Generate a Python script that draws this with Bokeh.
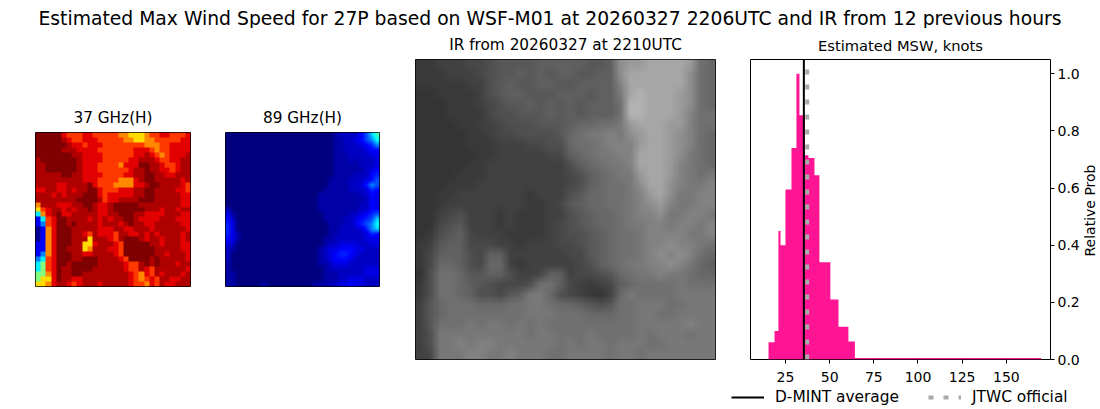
import math
import numpy as np
from bokeh.plotting import figure
from bokeh.layouts import column, row
from bokeh.models import Range1d, LinearColorMapper, Label, Legend, LegendItem, FixedTicker, CustomJSTickFormatter
from bokeh.palettes import Greys256
from bokeh.embed import file_html
from bokeh.resources import INLINE

FONT = "DejaVu Sans"
MAIN_TITLE = "Estimated Max Wind Speed for 27P based on WSF-M01 at 20260327 2206UTC and IR from 12 previous hours"

# histogram values
bin_edges = [15.4, 18.8, 21.0, 22.2, 25.0, 28.4, 31.2, 32.9, 36.0, 38.0, 41.4, 44.2, 50.4, 55.0, 60.6, 64.3, 169.7]
bin_prob = [0.06, 0.10, 0.45, 0.40, 0.595, 0.74, 1.0, 0.855, 0.715, 0.705, 0.645, 0.34, 0.21, 0.115, 0.063, 0.005]
dmint_average = 35.4
jtwc_official = 37.3
x_ticks = [25, 50, 75, 100, 125, 150]
y_ticks = [0.0, 0.2, 0.4, 0.6, 0.8, 1.0]
x_limits = (5.2, 175.0)
y_limits = (0.0, 1.05)

# 37 GHz brightness, one char per cell (see LEVEL37)
grid37 = [
"aaaaa 87778 87777 76655 56778 87778",
"aaaaa 98778 88777 77665 56677 77788",
"aaaaa a9887 88877 77777 76667 78888",
"aaaaa 99988 88777 77778 88767 78888",
"aaaaa aa998 88877 77778 89876 78889",
"9aaaa aaa98 88877 77788 99987 78899",
"99aaa aaa98 88777 76888 aa998 77899",
"99aaa aaa98 88777 77789 9a998 87899",
"99999 aa998 88877 77889 9aa99 88999",
"99999 99998 88777 76668 9aa99 99989",
"99998 89999 a8777 66668 89aa9 99987",
"88998 89899 aa877 78889 9aa99 99887",
"99989 8999a aa878 88889 9aa99 99988",
"99999 999aa aa978 89999 aaa99 99988",
"69998 8899a a9889 aaaaa 99999 99988",
"57899 89899 a9889 aaaaa a9998 99899",
"3689a 88999 99889 9aaa9 98888 99988",
"1378a a9999 89898 99aa9 88889 99888",
"1278a a9a99 99899 989a9 98899 99988",
"0168a aa999 99888 99889 99899 99998",
"0168a aa998 79888 79988 98989 99989",
"0168a aa999 59998 79aaa 98998 99989",
"1168a aa995 58999 87aaa aa998 99988",
"1168a a9995 69998 87aaa aaa99 99988",
"1268a aa998 89999 87aaa aaa99 89998",
"2378a aa99a aa999 987aa aa9a9 99998",
"3478a a9aaa aa999 99877 9a9a9 99899",
"3478a 99aaa a9999 99877 98799 99998",
"4468a 99aa9 99999 99987 68798 99989",
"4558a 99889 99999 99987 67879 98899",
"55689 98789 99899 99987 76879 88999",
]
LEVEL37 = {"0": 0.02, "1": 0.12, "2": 0.25, "3": 0.36, "4": 0.5, "5": 0.66, "6": 0.74, "7": 0.82, "8": 0.90, "9": 0.95, "a": 1.0}

# 89 GHz brightness
grid89 = [
"00000 00000 00000 00000 01222 246 8a",
"00000 00000 00000 00000 01122 346 79",
"00000 00000 00000 00000 01122 234 57",
"00000 00000 00000 00000 01122 223 44",
"00000 00000 00000 00000 01112 222 33",
"00000 00000 00000 00000 01112 122 23",
"00000 00000 00000 00000 01111 122 23",
"00000 00000 00000 00000 01111 112 34",
"00000 00000 00000 00000 01111 222 45",
"00000 00000 00000 00000 11112 223 46",
"00000 00000 00000 00000 11112 235 76",
"00000 00000 00000 00001 11112 223 54",
"00000 00000 00000 00011 11111 122 43",
"00000 00000 00000 00011 11111 112 43",
"00000 00000 00000 00011 11111 122 43",
"20000 00000 00000 00011 11111 122 44",
"31000 00000 00000 00001 11112 234 56",
"42000 00000 00000 00001 11122 345 68",
"53000 00000 00000 00000 11122 356 79",
"53000 00000 00000 00000 11222 235 78",
"53100 00000 00000 00000 11222 223 54",
"43100 00000 00000 00001 12222 223 33",
"32000 00000 00000 00001 22333 322 33",
"21000 00000 00000 00012 33444 332 22",
"20000 00000 00000 00012 34554 322 22",
"20000 00000 00000 00012 34443 222 22",
"10000 00000 00000 00011 23332 222 22",
"10000 00000 00000 00001 22222 223 33",
"11000 00000 00000 00001 11222 223 33",
"11000 00000 00000 00001 11223 332 22",
"11000 00100 00000 00111 22334 332 22",
]
LEVEL89 = {"0": 0.0, "1": 0.04, "2": 0.07, "3": 0.10, "4": 0.13, "5": 0.16, "6": 0.2, "7": 0.26, "8": 0.33, "9": 0.38, "a": 0.44}

# IR grey levels, top row first
gridIR = [
"22333 44566 66777 77667 cddee eed98",
"22233 34566 76767 76677 ceeee eec98",
"22222 33567 66776 67777 beeee eec98",
"11222 23567 76667 77677 aefee edc98",
"11122 23456 67676 76777 9ffee edc98",
"11122 22455 66676 76777 9ffee edb99",
"11112 23345 55666 78899 adeee ddb99",
"11111 22344 55556 89aab acdee dcb98",
"11111 22233 34455 899ab bbdee dcb98",
"11111 12233 33344 789aa bbeee dca98",
"11111 22333 33333 5789a abeee dba98",
"11112 22333 33333 45789 aadee dba9a",
"11122 23333 33333 45789 9acee cbaab",
"11223 33333 32333 56889 9abde caabb",
"11233 33333 32234 67889 9abcd baabb",
"11345 33323 22233 56788 9abbc aabba",
"11456 33323 22234 56788 9aabb abbab",
"12567 43332 22234 55678 99abb bbaab",
"23677 44433 23334 45678 99abb cbba9",
"24777 54773 33333 44678 99abc bcb98",
"24887 54883 23333 34578 9aabb cba87",
"15998 66775 33477 34456 89aab aa988",
"25998 76544 45997 43234 78999 9a999",
"25998 75546 7aa85 43213 8a999 9aaaa",
"36899 98889 9aa98 87656 99aaa 99aaa",
"36899 99999 9aaa9 99888 99aa9 9aaaa",
"36999 a9aa9 a9a99 99999 99aaa aabaa",
"35aaa aaaaa a9aa9 99a99 99a9a aa9aa",
"35aab abbaa aaaa9 a9aa9 aaa99 aaaaa",
"34aaa bbaab aaa99 aaaa9 aa9aa aaaaa",
]
LEVELIR = dict(zip("0123456789abcdef", [45, 52, 58, 65, 72, 80, 88, 96, 104, 112, 120, 130, 142, 154, 166, 178]))


def to_array(rows, levels):
    return np.array([[levels[c] for c in r.replace(" ", "")] for r in rows[::-1]], dtype=float)


def soften(a, k):
    """Bilinear display resampling of a read grid, like imshow(interpolation='bilinear')."""
    ny, nx = a.shape
    xs = (np.arange(nx * k) + 0.5) / k - 0.5
    ys = (np.arange(ny * k) + 0.5) / k - 0.5
    b = np.array([np.interp(xs, np.arange(nx), r) for r in a])
    return np.array([np.interp(ys, np.arange(ny), c) for c in b.T]).T


def jet(t):
    r = np.clip(min(4 * t - 1.5, -4 * t + 4.5), 0, 1)
    g = np.clip(min(4 * t - 0.5, -4 * t + 3.5), 0, 1)
    b = np.clip(min(4 * t + 0.5, -4 * t + 2.5), 0, 1)
    return "#%02x%02x%02x" % (int(r * 255), int(g * 255), int(b * 255))


JET = [jet(i / 255) for i in range(256)]
GREY = list(Greys256) if Greys256[0] == "#000000" else list(Greys256)[::-1]


def style_title(p, size, standoff):
    p.title.align = "center"
    p.title.text_font = FONT
    p.title.text_font_size = size
    p.title.text_font_style = "normal"
    p.title.text_color = "black"
    p.title.standoff = standoff


def panel(title, data, palette, low, high, width, left, right, top, bottom, standoff):
    ny, nx = data.shape
    p = figure(width=width, height=H, output_backend="svg", toolbar_location=None,
               x_range=Range1d(0, nx), y_range=Range1d(0, ny), title=title,
               min_border_left=left, min_border_right=right, min_border_top=top, min_border_bottom=bottom,
               x_axis_location=None, y_axis_location=None, frame_align=False)
    p.grid.visible = False
    p.image(image=[data], x=0, y=0, dw=nx, dh=ny,
            color_mapper=LinearColorMapper(palette=palette, low=low, high=high))
    p.outline_line_color = "black"
    p.outline_line_width = 1
    p.outline_line_alpha = 1
    style_title(p, "15.3px", standoff)
    return p


H = 360
p1 = panel("37 GHz(H)", to_array(grid37, LEVEL37), JET, 0, 1, 207, 35, 17, 104, 102, 11)
p2 = panel("89 GHz(H)", soften(to_array(grid89, LEVEL89), 5), JET, 0, 1, 190, 18, 18, 104, 102, 11)
p3 = panel("IR from 20260327 at 2210UTC", soften(to_array(gridIR, LEVELIR), 6), GREY, 0, 255, 330, 18, 12, 31, 29, 11)

p4 = figure(width=356, height=H, output_backend="svg", toolbar_location=None,
            x_range=Range1d(*x_limits), y_range=Range1d(*y_limits), title="Estimated MSW, knots",
            min_border_left=23, min_border_right=33, min_border_top=31, min_border_bottom=29,
            y_axis_location="right", frame_align=False)
p4.grid.visible = False
step_x = [e for pair in zip(bin_edges[:-1], bin_edges[1:]) for e in pair]
step_y = [v for v in bin_prob for _ in (0, 1)]
p4.varea(x=step_x, y1=[0.0] * len(step_x), y2=step_y, fill_color="#ff1493")
p4.line(x=[jtwc_official, jtwc_official], y=list(y_limits), line_color="#aaaaaa", line_width=4, line_dash="5 10")
p4.line(x=[dmint_average, dmint_average], y=list(y_limits), line_color="black", line_width=2)
p4.outline_line_color = "black"
p4.outline_line_alpha = 1
style_title(p4, "14.7px", 11)
for ax, ticks, standoff in ((p4.xaxis[0], x_ticks, 8), (p4.yaxis[0], y_ticks, 3)):
    ax.ticker = FixedTicker(ticks=ticks)
    ax.minor_tick_line_color = None
    ax.major_tick_in = 0
    ax.major_tick_out = 4
    ax.major_tick_line_color = "black"
    ax.axis_line_color = None
    ax.major_label_text_font = FONT
    ax.major_label_text_font_size = "14px"
    ax.major_label_text_color = "black"
    ax.major_label_standoff = standoff
p4.yaxis[0].formatter = CustomJSTickFormatter(code="return tick.toFixed(1)")

# axis title of the histogram, in a narrow strip to the right of its tick labels
p5 = figure(width=17, height=H, output_backend="svg", toolbar_location=None,
            x_axis_location=None, y_axis_location=None, outline_line_color=None,
            min_border_left=0, min_border_right=0, min_border_top=0, min_border_bottom=0, frame_align=False)
p5.grid.visible = False
p5.add_layout(Label(x=6, y=178, x_units="screen", y_units="screen", text="Relative Prob", angle=math.pi / 2,
                    text_align="center", text_baseline="middle", text_font=FONT, text_font_size="14px",
                    text_color="black"))

# legend strip along the bottom of the page
leg = figure(width=1100, height=21, output_backend="svg", toolbar_location=None,
             x_range=Range1d(0, 1), y_range=Range1d(0, 1),
             x_axis_location=None, y_axis_location=None, outline_line_color=None,
             min_border_left=0, min_border_right=0, min_border_top=0, min_border_bottom=0, frame_align=False)
leg.grid.visible = False
dm = leg.line(x=[dmint_average, dmint_average], y=list(y_limits), line_color="black", line_width=2)
jt = leg.line(x=[jtwc_official, jtwc_official], y=list(y_limits), line_color="#aaaaaa", line_width=4, line_dash="5 10")
legend = Legend(items=[LegendItem(label="D-MINT average", renderers=[dm]),
                       LegendItem(label="JTWC official", renderers=[jt])],
                orientation="horizontal", location=(731, 3), border_line_color=None,
                background_fill_alpha=0, label_text_font=FONT, label_text_font_size="15.4px",
                label_text_color="black", label_standoff=11, glyph_width=33, glyph_height=14,
                spacing=29, margin=0, padding=0)
leg.add_layout(legend, "center")

top = figure(width=1100, height=28, output_backend="svg", toolbar_location=None,
             x_axis_location=None, y_axis_location=None, outline_line_color=None,
             min_border_left=0, min_border_right=0, min_border_top=0, min_border_bottom=0, frame_align=False)
top.grid.visible = False
top.add_layout(Label(x=549.5, y=0, x_units="screen", y_units="screen", text=MAIN_TITLE, text_align="center",
                     text_font=FONT, text_font_size="18.75px", text_color="black"))

page = column(top, row(p1, p2, p3, p4, p5, spacing=0), leg, spacing=0)
open("out.html", "w").write(file_html(page, INLINE))
